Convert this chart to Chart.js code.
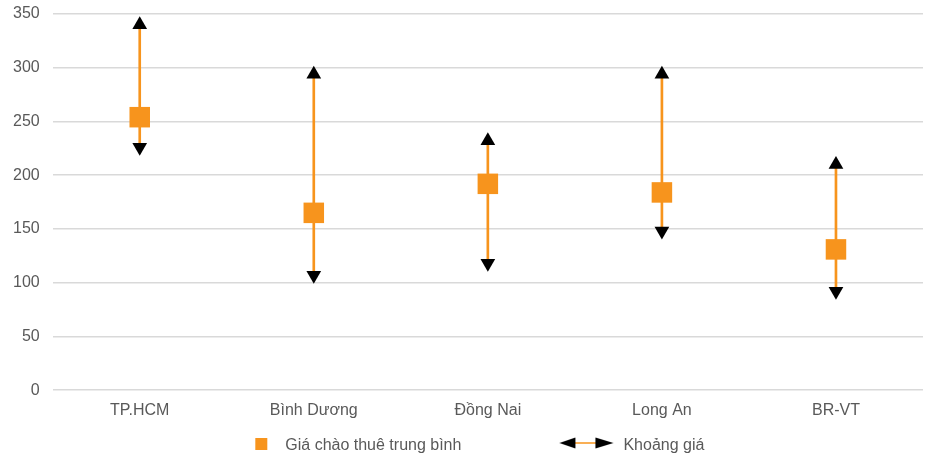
<!DOCTYPE html>
<html>
<head>
<meta charset="utf-8">
<script src="https://cdn.jsdelivr.net/npm/chart.js@4/dist/chart.umd.min.js"></script>
<style>
html, body { margin: 0; padding: 0; background: #fff; }
#khung { width: 935px; height: 459px; }
</style>
</head>
<body>
<div id="khung"><canvas id="grafica"></canvas></div>
<script>
// du lieu doc tu hinh
var khuVuc = ["TP.HCM", "Bình Dương", "Đồng Nai", "Long An", "BR-VT"];
var giaTrungBinh = [254, 165, 192, 184, 131];
var giaCao = [340, 294, 232, 294, 210];
var giaThap = [226, 107, 118, 148, 92];
var trucMin = 0;
var trucMax = 350;
var buocTruc = 50;
var tenChuGiai = ["Giá chào thuê trung bình", "Khoảng giá"];

var cam = "#F7941D";
var chu = "#595959";
var luoi = "#d9d9d9";
var phong = "'Liberation Sans', Arial, sans-serif";

var khoang = [];
for (var i = 0; i < khuVuc.length; i++) {
    khoang.push([giaThap[i], giaCao[i]]);
}

// hinh nho cho chu giai
function hinhVuong() {
    var c = document.createElement("canvas");
    c.width = 152; c.height = 20;
    var g = c.getContext("2d");
    g.fillStyle = cam;
    g.fillRect(130, 2, 12, 12);
    return c;
}
function hinhMuiTen() {
    var c = document.createElement("canvas");
    c.width = 152; c.height = 20;
    var g = c.getContext("2d");
    g.strokeStyle = cam;
    g.lineWidth = 1.5;
    g.beginPath(); g.moveTo(110, 7); g.lineTo(134, 7); g.stroke();
    g.fillStyle = "#000";
    g.beginPath(); g.moveTo(96, 7); g.lineTo(112, 1.5); g.lineTo(112, 12.5); g.closePath(); g.fill();
    g.beginPath(); g.moveTo(150, 7); g.lineTo(132, 1.5); g.lineTo(132, 12.5); g.closePath(); g.fill();
    return c;
}
var anhVuong = hinhVuong();
var anhMuiTen = hinhMuiTen();

var ctx = document.getElementById("grafica").getContext("2d");

var myChart = new Chart(ctx, {
    type: "bar",
    data: {
        labels: khuVuc,
        datasets: [{
            type: "bar",
            label: tenChuGiai[1],
            data: khoang,
            backgroundColor: cam,
            borderWidth: 0,
            barThickness: 2,
            order: 3
        }, {
            type: "line",
            label: "cao",
            data: giaCao,
            showLine: false,
            pointStyle: "triangle",
            pointRadius: 8.5,
            pointHoverRadius: 8.5,
            backgroundColor: "#000",
            borderColor: "#000",
            borderWidth: 0,
            clip: false,
            order: 2
        }, {
            type: "line",
            label: "thap",
            data: giaThap,
            showLine: false,
            pointStyle: "triangle",
            rotation: 180,
            pointRadius: 8.5,
            pointHoverRadius: 8.5,
            backgroundColor: "#000",
            borderColor: "#000",
            borderWidth: 0,
            clip: false,
            order: 2
        }, {
            type: "line",
            label: tenChuGiai[0],
            data: giaTrungBinh,
            showLine: false,
            pointStyle: "rect",
            pointRadius: 14.5,
            pointHoverRadius: 14.5,
            backgroundColor: cam,
            borderColor: cam,
            borderWidth: 0,
            clip: false,
            order: 1
        }]
    },
    options: {
        responsive: true,
        maintainAspectRatio: false,
        animation: false,
        layout: { autoPadding: false, padding: { top: 14, right: 12, left: 0, bottom: -5 } },
        scales: {
            x: {
                offset: true,
                grid: { display: false },
                border: { display: false },
                ticks: {
                    color: chu,
                    font: { family: phong, size: 16 },
                    padding: 2.4,
                    maxRotation: 0
                },
                afterFit: function (scale) { scale.height = 45.8; }
            },
            y: {
                min: trucMin,
                max: trucMax,
                grid: { color: luoi, lineWidth: 1.5, drawTicks: false },
                border: { display: false },
                ticks: {
                    stepSize: buocTruc,
                    color: chu,
                    font: { family: phong, size: 16 },
                    padding: 13
                },
                afterFit: function (scale) { scale.paddingTop = 0; scale.paddingBottom = 0; }
            }
        },
        plugins: {
            tooltip: { enabled: false },
            legend: {
                position: "bottom",
                labels: {
                    usePointStyle: true,
                    pointStyleWidth: 152,
                    padding: 2,
                    color: chu,
                    font: { family: phong, size: 16 },
                    generateLabels: function () {
                        return [
                            { text: tenChuGiai[0], pointStyle: anhVuong, fillStyle: cam, strokeStyle: cam, lineWidth: 0, hidden: false, datasetIndex: 3, fontColor: chu },
                            { text: tenChuGiai[1] + "\u00A0".repeat(21), pointStyle: anhMuiTen, fillStyle: cam, strokeStyle: cam, lineWidth: 0, hidden: false, datasetIndex: 0, fontColor: chu }
                        ];
                    }
                }
            }
        }
    }
});
</script>
</body>
</html>
